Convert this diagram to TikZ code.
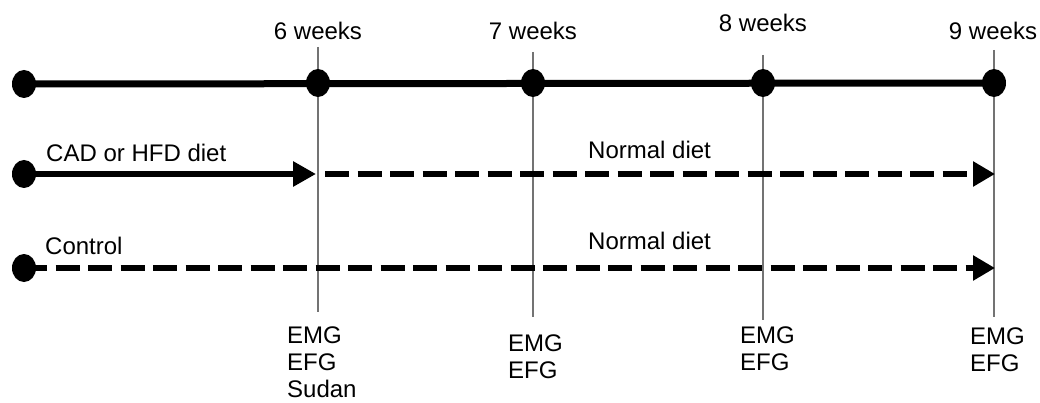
\documentclass[tikz,border=0pt]{standalone}
\usepackage{fontspec}
\setmainfont{Liberation Sans}
\usetikzlibrary{arrows.meta,shapes.geometric}
\begin{document}
\begin{tikzpicture}[x=1pt,y=-1pt,
  dot/.style={ellipse,fill=black,minimum width=24pt,minimum height=28pt,inner sep=0pt},
  axisline/.style={line width=7pt},
  vline/.style={draw=black!55,line width=1.5pt},
  solidarrow/.style={line width=6.5pt,-{Triangle[length=23pt,width=24pt]}},
  dasharrow/.style={line width=6.5pt,dash pattern=on 24pt off 8.5pt,-{Triangle[length=22pt,width=24pt]}},
  lbl/.style={font=\fontsize{24}{27}\selectfont,inner sep=0pt,align=left},
]
\useasboundingbox (0,0) rectangle (1040,403);

% vertical guide lines
\coordinate (t6) at (318,47);  \coordinate (b6) at (318,312);
\coordinate (t7) at (533,52);  \coordinate (b7) at (533,317);
\coordinate (t8) at (763,55);  \coordinate (b8) at (763,320);
\coordinate (t9) at (994,50);  \coordinate (b9) at (994,317);
\draw[vline] (t6) -- (b6);
\draw[vline] (t7) -- (b7);
\draw[vline] (t8) -- (b8);
\draw[vline] (t9) -- (b9);

% top time axis
\coordinate (a0) at (24,84);
\coordinate (a9) at (994,83);
\draw[axisline] (a0) -- (a9);
\node[dot] (d0) at (24,84) {};
\node[dot] (d6) at (318,83) {};
\node[dot] (d7) at (533,83) {};
\node[dot] (d8) at (763,83) {};
\node[dot] (d9) at (994,83) {};

% row 2: CAD or HFD diet then normal diet
\coordinate (r2s) at (24,174);
\coordinate (r2m) at (316,174);
\coordinate (r2d) at (325,174);
\coordinate (r2e) at (995,174);
\draw[solidarrow] (r2s) -- (r2m);
\draw[dasharrow] (r2d) -- (r2e);
\node[dot] (r2) at (24,174) {};

% row 3: control
\coordinate (r3s) at (36,268);
\coordinate (r3e) at (995,268);
\draw[dasharrow,dash phase=13pt] (r3s) -- (r3e);
\node[dot] (r3) at (24,268) {};

% week labels
\node[lbl,anchor=base] (w6) at (318,40) {6 weeks};
\node[lbl,anchor=base] (w7) at (533,40) {7 weeks};
\node[lbl,anchor=base] (w8) at (763,32) {8 weeks};
\node[lbl,anchor=base] (w9) at (993,40) {9 weeks};

% row labels
\node[lbl,anchor=base west] (cad) at (46,162) {CAD or HFD diet};
\node[lbl,anchor=base west] (nd1) at (588,159) {Normal diet};
\node[lbl,anchor=base west] (ctl) at (45,254) {Control};
\node[lbl,anchor=base west] (nd2) at (588,249) {Normal diet};

% measurement labels
\node[lbl,anchor=north west] (m6) at (287,327) {EMG\\EFG\\Sudan};
\node[lbl,anchor=north west] (m7) at (508,335) {EMG\\EFG};
\node[lbl,anchor=north west] (m8) at (740,327) {EMG\\EFG};
\node[lbl,anchor=north west] (m9) at (970,328) {EMG\\EFG};
\end{tikzpicture}
\end{document}
